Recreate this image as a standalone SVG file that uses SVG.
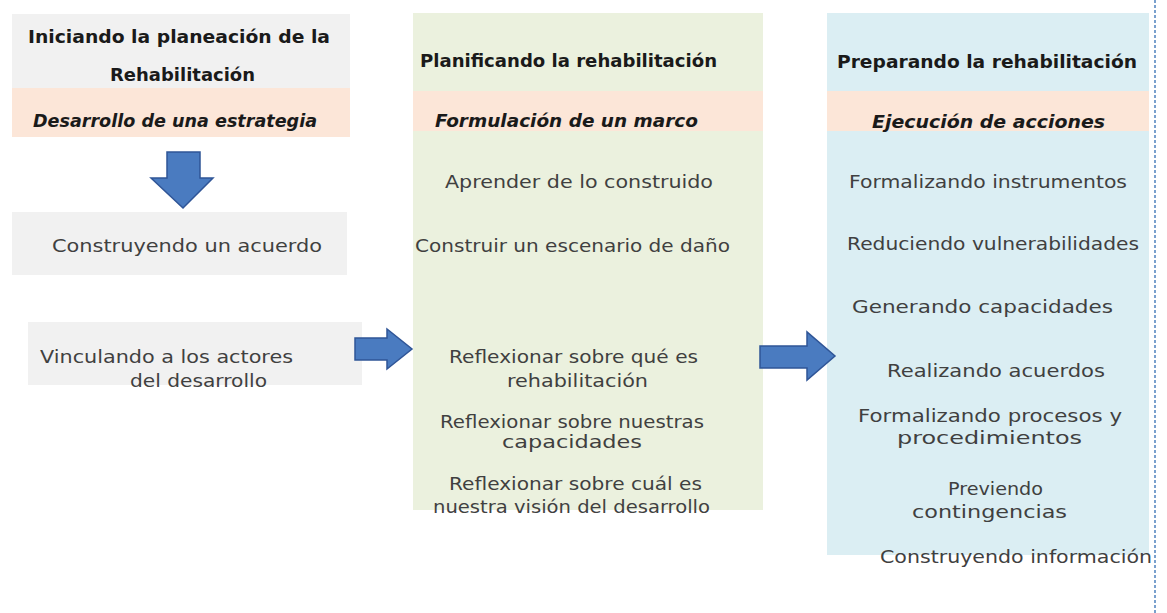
<svg xmlns="http://www.w3.org/2000/svg" width="1167" height="613" viewBox="0 0 1167 613">
<style>
.t{font-family:"DejaVu Sans","Liberation Sans",sans-serif;font-size:18px;fill:#404040}
.b{font-family:"DejaVu Sans","Liberation Sans",sans-serif;font-size:17.5px;font-weight:bold;fill:#1a1a1a}
.bi{font-family:"DejaVu Sans","Liberation Sans",sans-serif;font-size:17.5px;font-weight:bold;font-style:italic;fill:#1a1a1a}
.gray{fill:#f1f1f1}
.peach{fill:#fce6d8}
.green{fill:#ebf1de}
.blue{fill:#dbeef3}
.arrow{fill:#4a7bc0;stroke:#2f5597;stroke-width:1.5;stroke-linejoin:miter}
</style>
<rect width="1167" height="613" fill="#ffffff"/>

<g id="col1-header">
<rect class="gray" x="12" y="14" width="338" height="74"/>
<rect class="peach" x="12" y="88" width="338" height="49"/>
<text class="b" x="28" y="43" textLength="302" lengthAdjust="spacingAndGlyphs">Iniciando la planeación de la</text>
<text class="b" x="110" y="81" textLength="145" lengthAdjust="spacingAndGlyphs">Rehabilitación</text>
<text class="bi" x="33" y="127" textLength="284" lengthAdjust="spacingAndGlyphs">Desarrollo de una estrategia</text>
</g>

<g id="col1-acuerdo">
<rect class="gray" x="12" y="212" width="335" height="63"/>
<text class="t" x="52" y="252" textLength="270" lengthAdjust="spacingAndGlyphs">Construyendo un acuerdo</text>
</g>

<g id="col1-vinculando">
<rect class="gray" x="28" y="322" width="334" height="63"/>
<text class="t" x="40" y="363" textLength="253" lengthAdjust="spacingAndGlyphs">Vinculando a los actores</text>
<text class="t" x="130" y="387" textLength="137" lengthAdjust="spacingAndGlyphs">del desarrollo</text>
</g>

<g id="col2">
<rect class="green" x="413" y="13" width="350" height="497"/>
<rect class="peach" x="413" y="91" width="350" height="40"/>
<text class="b" x="420" y="67" textLength="297" lengthAdjust="spacingAndGlyphs">Planificando la rehabilitación</text>
<text class="bi" x="435" y="127" textLength="263" lengthAdjust="spacingAndGlyphs">Formulación de un marco</text>
<text class="t" x="445" y="188" textLength="268" lengthAdjust="spacingAndGlyphs">Aprender de lo construido</text>
<text class="t" x="415" y="252" textLength="315" lengthAdjust="spacingAndGlyphs">Construir un escenario de daño</text>
<text class="t" x="449" y="363" textLength="249" lengthAdjust="spacingAndGlyphs">Reflexionar sobre qué es</text>
<text class="t" x="507" y="387" textLength="141" lengthAdjust="spacingAndGlyphs">rehabilitación</text>
<text class="t" x="440" y="428" textLength="264" lengthAdjust="spacingAndGlyphs">Reflexionar sobre nuestras</text>
<text class="t" x="502" y="448" textLength="140" lengthAdjust="spacingAndGlyphs">capacidades</text>
<text class="t" x="449" y="490" textLength="253" lengthAdjust="spacingAndGlyphs">Reflexionar sobre cuál es</text>
<text class="t" x="433" y="513" textLength="277" lengthAdjust="spacingAndGlyphs">nuestra visión del desarrollo</text>
</g>

<g id="col3">
<rect class="blue" x="827" y="13" width="322" height="542"/>
<rect class="peach" x="827" y="91" width="322" height="40"/>
<text class="b" x="837" y="68" textLength="300" lengthAdjust="spacingAndGlyphs">Preparando la rehabilitación</text>
<text class="bi" x="872" y="128" textLength="233" lengthAdjust="spacingAndGlyphs">Ejecución de acciones</text>
<text class="t" x="849" y="188" textLength="278" lengthAdjust="spacingAndGlyphs">Formalizando instrumentos</text>
<text class="t" x="847" y="250" textLength="292" lengthAdjust="spacingAndGlyphs">Reduciendo vulnerabilidades</text>
<text class="t" x="852" y="313" textLength="261" lengthAdjust="spacingAndGlyphs">Generando capacidades</text>
<text class="t" x="887" y="377" textLength="218" lengthAdjust="spacingAndGlyphs">Realizando acuerdos</text>
<text class="t" x="858" y="422" textLength="264" lengthAdjust="spacingAndGlyphs">Formalizando procesos y</text>
<text class="t" x="897" y="444" textLength="185" lengthAdjust="spacingAndGlyphs">procedimientos</text>
<text class="t" x="948" y="495" textLength="95" lengthAdjust="spacingAndGlyphs">Previendo</text>
<text class="t" x="912" y="518" textLength="155" lengthAdjust="spacingAndGlyphs">contingencias</text>
<text class="t" x="880" y="563" textLength="272" lengthAdjust="spacingAndGlyphs">Construyendo información</text>
</g>

<g id="connectors">
<path class="arrow" d="M167,152 H200 V178 H213 L183,208 L151,178 H167 Z"/>
<path class="arrow" d="M355,338 H387 V329 L412,349 L387,369 V360 H355 Z"/>
<path class="arrow" d="M760,346 H807 V332 L835,356 L807,380 V368 H760 Z"/>
<line x1="1155" y1="0" x2="1155" y2="613" stroke="#4f81bd" stroke-width="1.5" stroke-dasharray="3 2"/>
</g>
</svg>
